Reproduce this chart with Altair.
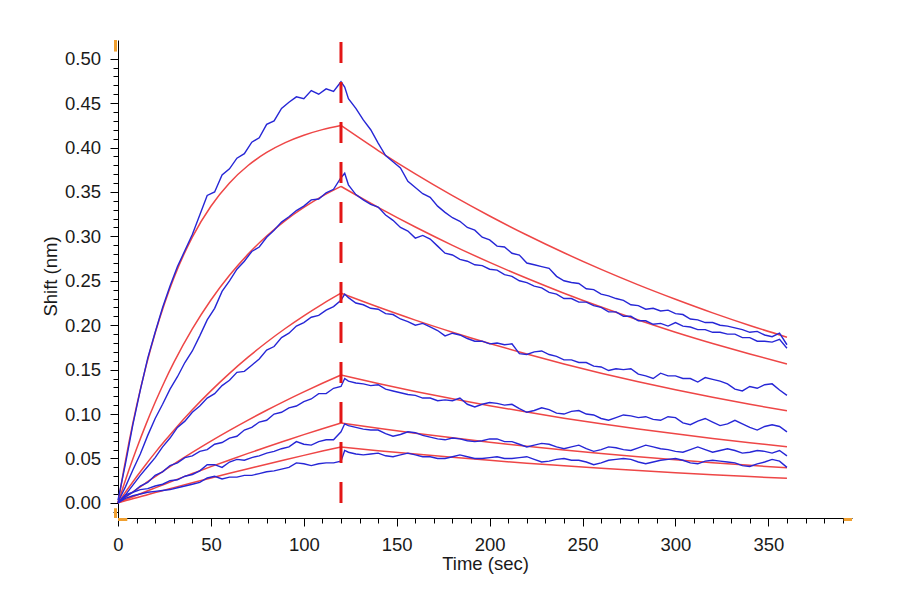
import altair as alt
import pandas as pd

# ---------------- data ----------------
# measured (blue) sensorgrams, sampled every 4 s plus the spike at 122 s
T_BLUE = list(range(0, 121, 4)) + [122] + list(range(124, 361, 4))

B1 = [0.003, 0.044, 0.088, 0.127, 0.163, 0.192, 0.220, 0.244, 0.266, 0.284, 0.302,
      0.324, 0.346, 0.350, 0.369, 0.376, 0.388, 0.393, 0.406, 0.411, 0.426, 0.430,
      0.444, 0.451, 0.457, 0.455, 0.464, 0.460, 0.466, 0.463, 0.474,
      0.468,
      0.455, 0.444, 0.431, 0.420, 0.405, 0.391, 0.384, 0.377, 0.362, 0.355,
      0.348, 0.344, 0.334, 0.327, 0.321, 0.317, 0.310, 0.307, 0.299, 0.296,
      0.289, 0.288, 0.281, 0.279, 0.270, 0.268, 0.266, 0.264, 0.255, 0.250,
      0.248, 0.247, 0.241, 0.240, 0.235, 0.233, 0.230, 0.228, 0.223, 0.222,
      0.218, 0.219, 0.216, 0.217, 0.213, 0.212, 0.207, 0.206, 0.203, 0.203,
      0.200, 0.199, 0.197, 0.195, 0.192, 0.193, 0.189, 0.187, 0.191, 0.178]

B2 = [0.001, 0.018, 0.037, 0.055, 0.076, 0.095, 0.111, 0.128, 0.142, 0.158, 0.171,
      0.188, 0.206, 0.219, 0.238, 0.250, 0.263, 0.272, 0.283, 0.288, 0.299, 0.307,
      0.316, 0.322, 0.329, 0.334, 0.341, 0.342, 0.349, 0.353, 0.366,
      0.371,
      0.358, 0.347, 0.341, 0.336, 0.333, 0.324, 0.318, 0.310, 0.306, 0.298,
      0.301, 0.297, 0.289, 0.281, 0.279, 0.274, 0.272, 0.268, 0.267, 0.263,
      0.262, 0.257, 0.255, 0.250, 0.248, 0.244, 0.242, 0.237, 0.235, 0.230,
      0.230, 0.226, 0.226, 0.222, 0.220, 0.215, 0.215, 0.210, 0.210, 0.205,
      0.205, 0.201, 0.202, 0.199, 0.203, 0.199, 0.198, 0.195, 0.195, 0.192,
      0.192, 0.190, 0.190, 0.186, 0.186, 0.182, 0.182, 0.181, 0.184, 0.174]

B3 = [0.000, 0.009, 0.020, 0.031, 0.041, 0.051, 0.063, 0.073, 0.085, 0.092, 0.102,
      0.109, 0.118, 0.123, 0.132, 0.138, 0.147, 0.148, 0.155, 0.162, 0.172, 0.176,
      0.186, 0.191, 0.199, 0.203, 0.209, 0.211, 0.217, 0.221, 0.228,
      0.235,
      0.231, 0.225, 0.223, 0.219, 0.218, 0.213, 0.212, 0.207, 0.204, 0.200,
      0.202, 0.198, 0.194, 0.188, 0.191, 0.189, 0.185, 0.182, 0.182, 0.179,
      0.180, 0.178, 0.179, 0.168, 0.167, 0.170, 0.171, 0.167, 0.165, 0.161,
      0.161, 0.158, 0.158, 0.154, 0.153, 0.149, 0.151, 0.150, 0.151, 0.145,
      0.143, 0.140, 0.146, 0.143, 0.143, 0.140, 0.140, 0.136, 0.141, 0.139,
      0.137, 0.134, 0.128, 0.126, 0.131, 0.129, 0.133, 0.134, 0.127, 0.121]

B4 = [0.000, 0.007, 0.012, 0.019, 0.023, 0.031, 0.035, 0.042, 0.045, 0.051, 0.053,
      0.058, 0.060, 0.066, 0.068, 0.073, 0.075, 0.082, 0.085, 0.091, 0.093, 0.100,
      0.102, 0.107, 0.109, 0.114, 0.117, 0.123, 0.123, 0.129, 0.131,
      0.140,
      0.137, 0.135, 0.134, 0.132, 0.133, 0.128, 0.126, 0.124, 0.122, 0.121,
      0.118, 0.118, 0.115, 0.116, 0.115, 0.118, 0.111, 0.108, 0.111, 0.113,
      0.112, 0.110, 0.111, 0.106, 0.102, 0.104, 0.107, 0.105, 0.101, 0.100,
      0.103, 0.104, 0.100, 0.099, 0.095, 0.093, 0.096, 0.099, 0.098, 0.096,
      0.097, 0.094, 0.093, 0.097, 0.096, 0.090, 0.088, 0.092, 0.095, 0.091,
      0.087, 0.089, 0.093, 0.089, 0.085, 0.082, 0.086, 0.088, 0.086, 0.080]

B5 = [0.000, 0.009, 0.012, 0.015, 0.016, 0.019, 0.021, 0.025, 0.026, 0.030, 0.032,
      0.036, 0.043, 0.043, 0.040, 0.046, 0.049, 0.048, 0.051, 0.053, 0.056, 0.058,
      0.061, 0.063, 0.069, 0.066, 0.065, 0.069, 0.071, 0.071, 0.080,
      0.089,
      0.087, 0.085, 0.083, 0.082, 0.082, 0.078, 0.075, 0.077, 0.080, 0.079,
      0.076, 0.074, 0.072, 0.071, 0.073, 0.072, 0.070, 0.069, 0.070, 0.072,
      0.072, 0.069, 0.069, 0.066, 0.063, 0.065, 0.067, 0.066, 0.063, 0.061,
      0.063, 0.065, 0.061, 0.058, 0.060, 0.063, 0.062, 0.060, 0.059, 0.062,
      0.065, 0.063, 0.061, 0.060, 0.058, 0.057, 0.060, 0.063, 0.060, 0.057,
      0.059, 0.061, 0.059, 0.056, 0.057, 0.059, 0.058, 0.056, 0.059, 0.053]

B6 = [0.000, 0.005, 0.008, 0.010, 0.012, 0.013, 0.014, 0.015, 0.017, 0.019, 0.021,
      0.023, 0.028, 0.030, 0.027, 0.029, 0.029, 0.031, 0.031, 0.033, 0.035, 0.036,
      0.038, 0.040, 0.045, 0.044, 0.042, 0.044, 0.045, 0.045, 0.047,
      0.059,
      0.057, 0.055, 0.054, 0.055, 0.056, 0.053, 0.052, 0.054, 0.056, 0.054,
      0.052, 0.052, 0.050, 0.050, 0.052, 0.054, 0.052, 0.050, 0.050, 0.051,
      0.052, 0.050, 0.050, 0.051, 0.052, 0.049, 0.046, 0.047, 0.049, 0.050,
      0.048, 0.048, 0.046, 0.043, 0.045, 0.048, 0.049, 0.050, 0.049, 0.046,
      0.044, 0.046, 0.048, 0.049, 0.050, 0.048, 0.045, 0.044, 0.047, 0.048,
      0.047, 0.046, 0.045, 0.042, 0.041, 0.044, 0.046, 0.049, 0.047, 0.040]

# fitted (red) curves: association and dissociation phases
T_ASSOC = [0, 3, 6, 10, 15, 20, 25, 30, 40, 50, 60, 70, 80, 90, 100, 110, 120]
T_DISS = [120, 140, 160, 180, 200, 220, 240, 260, 280, 300, 320, 340, 360]

R1_A = [0.0, 0.0361, 0.0692, 0.1092, 0.1531, 0.1912, 0.2242, 0.2529, 0.2992, 0.3339,
        0.3601, 0.3797, 0.3944, 0.4055, 0.4138, 0.4201, 0.4248]
R1_D = [0.4248, 0.3966, 0.3703, 0.3458, 0.3229, 0.3015, 0.2815, 0.2628, 0.2454,
        0.2292, 0.2139, 0.1997, 0.1865]
R2_A = [0.0, 0.0193, 0.0378, 0.0610, 0.0881, 0.1132, 0.1364, 0.1578, 0.1958, 0.2284,
        0.2562, 0.2800, 0.3004, 0.3178, 0.3326, 0.3453, 0.3562]
R2_D = [0.3562, 0.3326, 0.3105, 0.2899, 0.2707, 0.2528, 0.2360, 0.2204, 0.2058,
        0.1921, 0.1794, 0.1675, 0.1564]
R3_A = [0.0, 0.0091, 0.0179, 0.0294, 0.0433, 0.0566, 0.0693, 0.0816, 0.1048, 0.1261,
        0.1458, 0.1640, 0.1808, 0.1963, 0.2106, 0.2238, 0.2360]
R3_D = [0.2360, 0.2204, 0.2057, 0.1921, 0.1794, 0.1675, 0.1564, 0.1460, 0.1363,
        0.1273, 0.1188, 0.1110, 0.1036]
R4_A = [0.0, 0.0046, 0.0092, 0.0152, 0.0225, 0.0297, 0.0367, 0.0436, 0.0568, 0.0695,
        0.0816, 0.0932, 0.1043, 0.1149, 0.1250, 0.1347, 0.1440]
R4_D = [0.1440, 0.1345, 0.1255, 0.1172, 0.1094, 0.1022, 0.0954, 0.0891, 0.0832,
        0.0777, 0.0725, 0.0677, 0.0632]
R5_A = [0.0, 0.0026, 0.0052, 0.0086, 0.0128, 0.0169, 0.0210, 0.0251, 0.0330, 0.0408,
        0.0483, 0.0557, 0.0629, 0.0699, 0.0768, 0.0834, 0.0899]
R5_D = [0.0899, 0.0839, 0.0784, 0.0732, 0.0683, 0.0638, 0.0596, 0.0556, 0.0519,
        0.0485, 0.0453, 0.0423, 0.0395]
R6_A = [0.0, 0.0018, 0.0035, 0.0058, 0.0087, 0.0116, 0.0144, 0.0172, 0.0227, 0.0281,
        0.0334, 0.0385, 0.0436, 0.0486, 0.0535, 0.0583, 0.0630]
R6_D = [0.0630, 0.0588, 0.0549, 0.0513, 0.0479, 0.0447, 0.0418, 0.0390, 0.0364,
        0.0340, 0.0317, 0.0296, 0.0277]

STEP_TIME = [120]           # start of dissociation (dashed marker)
X_MAJOR = [0, 50, 100, 150, 200, 250, 300, 350]
Y_MAJOR = [0.0, 0.05, 0.1, 0.15, 0.2, 0.25, 0.3, 0.35, 0.4, 0.45, 0.5]
X_MINOR = list(range(0, 391, 10))
Y_MINOR = [round(i * 0.01, 2) for i in range(-1, 51)]

X_DOMAIN = [0, 395]
Y_DOMAIN = [-0.017, 0.521]

# ---------------- tables ----------------
blue_rows = []
for name, vals in zip(["1", "2", "3", "4", "5", "6"], [B1, B2, B3, B4, B5, B6]):
    for t, v in zip(T_BLUE, vals):
        blue_rows.append({"t": t, "v": v, "curve": name})
blue_df = pd.DataFrame(blue_rows)

red_rows = []
for name, a, d in zip(["1", "2", "3", "4", "5", "6"],
                      [R1_A, R2_A, R3_A, R4_A, R5_A, R6_A],
                      [R1_D, R2_D, R3_D, R4_D, R5_D, R6_D]):
    for t, v in zip(T_ASSOC, a):
        red_rows.append({"t": t, "v": v, "seg": name + "a"})
    for t, v in zip(T_DISS, d):
        red_rows.append({"t": t, "v": v, "seg": name + "d"})
red_df = pd.DataFrame(red_rows)

dash_df = pd.DataFrame({"t": STEP_TIME, "lo": [0.0], "hi": [Y_DOMAIN[1]]})
orange_v_df = pd.DataFrame({"x": [0, 0], "y": [0.508, Y_DOMAIN[0]], "y2": [Y_DOMAIN[1], -0.006]})
orange_h_df = pd.DataFrame({"x": [0, 390.5], "x2": [5, 395], "y": [Y_DOMAIN[0], Y_DOMAIN[0]]})

# ---------------- chart ----------------
FONT = "Liberation Sans"
xs = alt.Scale(domain=X_DOMAIN, nice=False, zero=False)
ys = alt.Scale(domain=Y_DOMAIN, nice=False, zero=False)

minor_x = alt.Axis(values=X_MINOR, tickSize=5, labels=False, domain=False, grid=False,
                   title=None, orient="bottom", tickColor="black")
minor_y = alt.Axis(values=Y_MINOR, tickSize=5, labels=False, domain=False, grid=False,
                   title=None, orient="left", tickColor="black")
major_x = alt.Axis(values=X_MAJOR, tickSize=8, labelPadding=9, format="d", grid=False,
                   orient="bottom", title="Time (sec)", titleY=51, titleBaseline="alphabetic",
                   labelFlush=False, labelOverlap=False)
major_y = alt.Axis(values=Y_MAJOR, tickSize=8, labelPadding=9.5, format=".2f", grid=False,
                   orient="left", title="Shift (nm)", titleX=-62, titleY=236,
                   titleBaseline="alphabetic", titleAngle=270, titleAlign="center",
                   labelFlush=False, labelOverlap=False)

red = alt.Chart(red_df).mark_line(color="#ee4646", strokeWidth=1.5, interpolate="monotone").encode(
    x=alt.X("t:Q", scale=xs, axis=minor_x),
    y=alt.Y("v:Q", scale=ys, axis=minor_y),
    detail="seg:N",
)
blue = alt.Chart(blue_df).mark_line(color="#2626d6", strokeWidth=1.4).encode(
    x=alt.X("t:Q", scale=xs, axis=major_x),
    y=alt.Y("v:Q", scale=ys, axis=major_y),
    detail="curve:N",
)
dash = alt.Chart(dash_df).mark_rule(color="#e31616", strokeWidth=3, strokeDash=[21, 19]).encode(
    x=alt.X("t:Q", scale=xs, axis=None),
    y=alt.Y("lo:Q", scale=ys, axis=None),
    y2="hi:Q",
)
orange_v = alt.Chart(orange_v_df).mark_rule(color="#f0a030", strokeWidth=3, xOffset=-2.5).encode(
    x=alt.X("x:Q", scale=xs, axis=None),
    y=alt.Y("y:Q", scale=ys, axis=None),
    y2="y2:Q",
)
orange_h = alt.Chart(orange_h_df).mark_rule(color="#f0a030", strokeWidth=3, yOffset=1.5).encode(
    x=alt.X("x:Q", scale=xs, axis=None),
    x2="x2:Q",
    y=alt.Y("y:Q", scale=ys, axis=None),
)

chart = (
    alt.layer(red, blue, dash, orange_v, orange_h)
    .resolve_axis(x="independent", y="independent")
    .properties(
        width=734,
        height=478,
        autosize=alt.AutoSizeParams(type="none"),
        padding={"left": 110, "top": 32, "right": 30, "bottom": 72},
        background="white",
    )
    .configure_view(stroke=None)
    .configure_axis(
        labelFont=FONT, titleFont=FONT, labelFontSize=18.5, titleFontSize=18.5,
        titleFontWeight="normal", labelColor="#1a1a1a", titleColor="#1a1a1a",
        domainColor="black", tickColor="black", domainWidth=1, tickWidth=1,
    )
)

chart.save("out.html", embed_options={"renderer": "svg", "actions": False})
